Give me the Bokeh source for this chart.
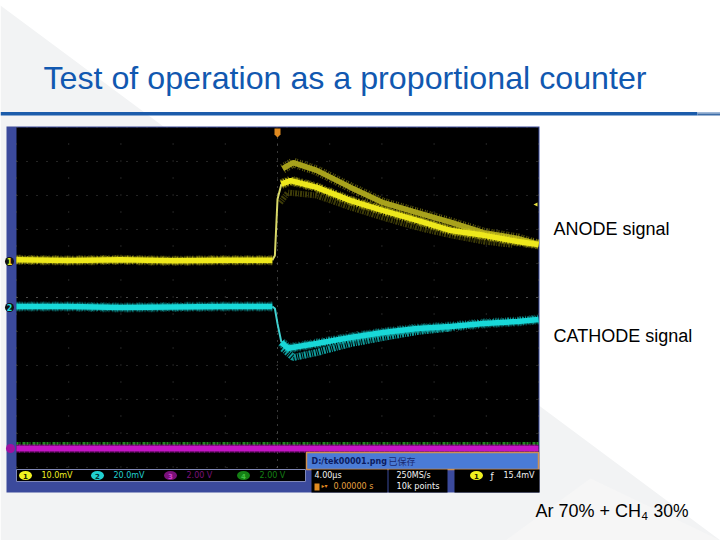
from bokeh.plotting import figure
from bokeh.models import Range1d
from bokeh.core.properties import value
from bokeh.embed import file_html
from bokeh.resources import INLINE

div_us = 4.0
ch1_mv_div = 10.0
ch2_mv_div = 20.0
ch34_v_div = 2.0

# time of the baseline samples (us), CH1 (mV), CH2 (mV)
base_t = [-20, -16, -12, -8, -4, -0.4]
base_ch1 = [0.2, 0.0, 0.2, -0.1, 0.1, 0.1]
base_ch2 = [0.6, 0.6, 0.0, 0.3, 0.6, 0.6]

rise_t = [-0.4, -0.2, 0.0, 0.3]
rise_ch1 = [0.1, 1.5, 18.0, 22.5]
rise_ch2 = [0.6, -0.6, -9.5, -20.5]

anode_t = [0.3, 1.0, 3.0, 5.6, 8.1, 10.7, 13.3, 15.8, 18.4, 20.0]
anode_mv = [22.5, 23.5, 21.5, 17.6, 14.7, 11.8, 8.8, 7.4, 5.6, 4.7]

anode_hi_t = [0.4, 1.2, 3.0, 5.6, 8.1, 10.7, 13.3, 15.8, 18.4, 20.0]
anode_hi_mv = [27.0, 28.8, 26.5, 21.5, 17.0, 14.1, 11.2, 8.2, 6.5, 4.7]

anode_lo_t = [0.2, 0.8, 3.0, 5.6, 8.1, 10.7, 13.3, 15.8, 18.0]
anode_lo_mv = [17.0, 20.0, 19.1, 15.6, 12.6, 9.7, 7.4, 5.6, 4.6]

cathode_t = [0.3, 0.8, 3.0, 5.6, 8.1, 10.7, 13.3, 15.8, 18.4, 20.0]
cathode_mv = [-20.5, -24.0, -21.2, -17.6, -14.7, -12.4, -11.2, -9.4, -8.2, -7.0]

cathode_lo_t = [0.4, 1.2, 3.0, 5.6, 8.1, 10.7, 13.3]
cathode_lo_mv = [-24.0, -29.4, -26.5, -21.2, -17.6, -14.1, -12.0]

ch3_t = [-20, -10, 0, 10, 20]
ch3_v = [0.0, 0.0, 0.0, 0.0, 0.0]
ch4_v = [0.3, 0.3, 0.3, 0.3, 0.3]

grid_t = [-20, -16, -12, -8, -4, 0, 4, 8, 12, 16, 20]
grid_div = [-5, -4, -3, -2, -1, 0, 1, 2, 3, 4, 5]

title = "Test of operation as a proportional counter"
readouts = ["10.0mV", "20.0mV", "2.00 V", "2.00 V"]

# ---- layout (reference pixels) ----
W, H = 720, 540
PX_L, PX_R, PX_T, PX_B = 0, 720, 0, 540
T0 = 277.0
PX_DIV = 52.2
Y1, Y2, Y3 = 260.0, 307.0, 448.0
PY_DIV = 34.0

def t_at(px):
    return (px - T0) / PX_DIV * div_us

def range_for(zero_py, per_div):
    return Range1d((zero_py - PX_B) / PY_DIV * per_div, (zero_py - PX_T) / PY_DIV * per_div)

p = figure(width=W, height=H, output_backend="svg", toolbar_location=None,
           x_range=Range1d(t_at(PX_L), t_at(PX_R)), y_range=range_for(Y1, ch1_mv_div),
           min_border=0, outline_line_color=None, background_fill_color="#ffffff",
           border_fill_color="#ffffff")
p.axis.visible = False
p.grid.visible = False
p.extra_y_ranges = {"ch2": range_for(Y2, ch2_mv_div),
                    "ch3": range_for(Y3, ch34_v_div),
                    "gy": Range1d((297 - PX_B) / PY_DIV, (297 - PX_T) / PY_DIV),
                    "py": Range1d(PX_B, PX_T)}
p.extra_x_ranges = {"px": Range1d(PX_L, PX_R)}
P = dict(x_range_name="px", y_range_name="py")

def rect(l, t, r, b, color, **kw):
    p.quad(left=[l], right=[r], top=[t], bottom=[b], fill_color=color,
           line_color=kw.pop("line", None), line_width=kw.pop("lw", 1), **P, **kw)

def txt(x, y, s, size, color="#000000", font="Liberation Sans", style="normal", align="left"):
    p.text([x], [y], text=[s], text_font=value(font), text_font_size=f"{size}px",
           text_color=color, text_font_style=style, text_align=align,
           text_baseline="middle", **P)

def trace(ts, vs, color, fuzz, y_name="default"):
    p.line(ts, vs, y_range_name=y_name, line_color=fuzz, line_width=10, line_alpha=0.4, line_dash="1 1 2 1 1 2 1 3")
    p.line(ts, vs, y_range_name=y_name, line_color=fuzz, line_width=8, line_alpha=0.7, line_dash="2 1 1 1")
    p.line(ts, vs, y_range_name=y_name, line_color=color, line_width=5.5)

# background diagonals
p.patch([0, 720, 0], [5, 540, 540], fill_color="#f2f3f4", line_color=None, **P)
p.patch([505, 590, 720], [540, 478, 540], fill_color="#f6f6f6", line_color=None, **P)

# title and rule
txt(43, 77, title, 32.2, color="#1158b0")
rect(0, 111.5, 697, 115, "#1b5cab")
rect(697, 111.5, 720, 113, "#9fb8d8")
rect(697, 113, 720, 115, "#3d6da8")

# scope panel
rect(6, 126, 539, 492, "#3b4a9c")
rect(16, 127, 538, 469, "#000000")

# graticule
top, bot = 5, -5
p.multi_line([[t, t] for t in grid_t], [[bot, top] for _ in grid_t], y_range_name="gy",
             line_color="#484848", line_width=1, line_dash="1 16")
p.multi_line([[-20, 20] for _ in grid_div], [[d, d] for d in grid_div], y_range_name="gy",
             line_color="#484848", line_width=1, line_dash="1 9")
p.line([0, 0], [bot, top], y_range_name="gy", line_color="#707070", line_width=1, line_dash="1 6")
p.line([-20, 20], [0, 0], y_range_name="gy", line_color="#707070", line_width=1, line_dash="1 9")

# CH3 / CH4
p.line(ch3_t, ch4_v, y_range_name="ch3", line_color="#1f8a1f", line_width=3, line_dash="2 1 1 2 3 1")
p.line(ch3_t, ch3_v, y_range_name="ch3", line_color="#a810a8", line_width=9, line_alpha=0.6, line_dash="1 1 2 1")
p.line(ch3_t, ch3_v, y_range_name="ch3", line_color="#c414c4", line_width=6)

# CH1
p.line(anode_lo_t, anode_lo_mv, line_color="#3f3d08", line_width=6, line_dash="2 1 1 1")
p.line(anode_hi_t, anode_hi_mv, line_color="#b0aa1c", line_width=10, line_alpha=0.55, line_dash="1 2 1 1")
p.line(anode_hi_t, anode_hi_mv, line_color="#a8a21c", line_width=5.5)
p.line(rise_t, rise_ch1, line_color="#d8d868", line_width=2)
trace(base_t, base_ch1, "#eee81c", "#cfc918")
trace(anode_t, anode_mv, "#eee81c", "#cfc918")

# CH2
p.line(cathode_lo_t, cathode_lo_mv, y_range_name="ch2", line_color="#0f9a9a", line_width=7, line_dash="2 1 1 1")
p.line(rise_t, rise_ch2, y_range_name="ch2", line_color="#40d0d0", line_width=2)
trace(base_t, base_ch2, "#18d8d8", "#12b4b4", "ch2")
trace(cathode_t, cathode_mv, "#18d8d8", "#12b4b4", "ch2")

# left channel markers and trigger markers
for py, s, c in [(261, "1", "#eeee20"), (307, "2", "#20e0e0")]:
    p.scatter([9], [py], marker="circle", size=9, fill_color="#101010", line_color=None, **P)
    txt(9, py, s, 8, color=c, font="DejaVu Sans", style="bold", align="center")
p.scatter([10], [448], marker="circle", size=9, fill_color="#a010a0", line_color=None, **P)
p.patch([274, 280, 280, 277, 274], [128, 128, 134, 137, 134], fill_color="#e08a20", line_color=None, **P)
p.patch([537, 533, 537], [202, 204, 206], fill_color="#e8e040", line_color=None, **P)

# message box
rect(306, 452, 538, 469, "#4a7bd6", line="#d09050", lw=1.5)
txt(311, 460.5, "D:/tek00001.png", 8, color="#0c1c60", font="DejaVu Sans", style="bold")
txt(388, 460.5, "已保存", 9, color="#1a2a70", font="Noto Sans CJK SC")

# readout strip
rect(16, 469, 305, 481, "#000000", line="#8088b8")
for cx, tx, s, c, num, tc in [(25, 41, readouts[0], "#f0f020", "1", "#202000"),
                              (97, 113, readouts[1], "#20d0d0", "2", "#003030"),
                              (170, 186, readouts[2], "#7a107a", "3", "#d040d0"),
                              (243, 259, readouts[3], "#148014", "4", "#40c040")]:
    p.ellipse([cx], [475], width=13, height=9, fill_color=c, line_color=None, **P)
    txt(cx, 475, num, 7, color=tc, font="DejaVu Sans", style="bold", align="center")
    txt(tx, 475, s, 8, color=c, font="DejaVu Sans")

rect(311, 469, 387, 492, "#000000")
rect(388, 469, 447, 492, "#000000")
rect(454, 469, 539, 492, "#000000")
txt(314, 475, "4.00µs", 8, color="#f4f4f4", font="DejaVu Sans")
rect(314, 483, 319, 490, "#e08a20")
txt(321, 485, "▸▾", 6, color="#e08a20", font="DejaVu Sans")
txt(333, 485.5, "0.00000 s", 8, color="#e8a040", font="DejaVu Sans")
txt(396, 475, "250MS/s", 8, color="#f4f4f4", font="DejaVu Sans")
txt(396, 485.5, "10k points", 8.2, color="#f4f4f4", font="DejaVu Sans")
p.ellipse([476], [475], width=13, height=9, fill_color="#f0f020", line_color=None, **P)
txt(476, 475, "1", 7, color="#202000", font="DejaVu Sans", style="bold", align="center")
txt(490, 475, "ƒ", 9, color="#f4f4f4", font="DejaVu Sans")
txt(503, 475, "15.4mV", 8, color="#f4f4f4", font="DejaVu Sans")

# side annotations
txt(553, 228, "ANODE signal", 18)
txt(553, 335, "CATHODE signal", 18)
txt(535, 510, "Ar 70% + CH", 18)
txt(641, 515, "4", 11.5)
txt(653, 510, "30%", 17.5)

open("out.html", "w").write(file_html(p, INLINE))
